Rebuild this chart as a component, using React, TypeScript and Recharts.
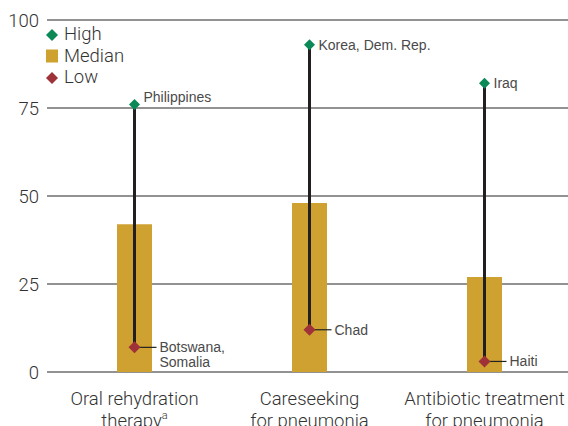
import React from "react";
import {
  ComposedChart,
  Bar,
  Scatter,
  XAxis,
  YAxis,
  CartesianGrid,
} from "recharts";

const categories = ["Oral rehydration therapy", "Careseeking for pneumonia", "Antibiotic treatment for pneumonia"];
const categoryLines = [
  ["Oral rehydration", "therapy"],
  ["Careseeking", "for pneumonia"],
  ["Antibiotic treatment", "for pneumonia"],
];
const highValues = [76, 93, 82];
const medianValues = [42, 48, 27];
const lowValues = [7, 12, 3];
const highCountries = ["Philippines", "Korea, Dem. Rep.", "Iraq"];
const lowCountries = [["Botswana,", "Somalia"], ["Chad"], ["Haiti"]];
const yTicks = [0, 25, 50, 75, 100];

const GREEN = "#0b8a57";
const GOLD = "#cea131";
const RED = "#9e3238";
const FONT = "'Liberation Sans', Arial, sans-serif";
const AXIS_FONT = "Roboto, 'Liberation Sans', sans-serif";

const data = categories.map((name, i) => ({
  name,
  high: highValues[i],
  median: medianValues[i],
  low: lowValues[i],
  range: [lowValues[i], highValues[i]],
  highLabel: highCountries[i],
  lowLabel: lowCountries[i],
}));

const Diamond = ({ cx, cy, fill, r = 6 }: any) => (
  <polygon
    points={`${cx},${cy - r} ${cx + r},${cy} ${cx},${cy + r} ${cx - r},${cy}`}
    fill={fill}
  />
);

const HighShape = (props: any) => {
  const { cx, cy, payload } = props;
  // first label sits just above the 75 gridline
  const dy = payload.highLabel === "Philippines" ? -7 : 0;
  return (
    <g>
      <Diamond cx={cx} cy={cy} fill={GREEN} r={5.5} />
      <text
        x={cx + 9}
        y={cy + dy}
        dy="0.35em"
        fontSize={14}
        fill="#4a4a4a"
        fontFamily={FONT}
      >
        {payload.highLabel}
      </text>
    </g>
  );
};

const LowShape = (props: any) => {
  const { cx, cy, payload } = props;
  const lines: string[] = payload.lowLabel;
  return (
    <g>
      <line x1={cx} y1={cy} x2={cx + 22} y2={cy} stroke="#222" strokeWidth={1.2} />
      <Diamond cx={cx} cy={cy} fill={RED} r={6} />
      {lines.map((l, i) => (
        <text
          key={i}
          x={cx + 25}
          y={cy + i * 15}
          dy="0.35em"
          fontSize={14}
          fill="#4a4a4a"
          fontFamily={FONT}
        >
          {l}
        </text>
      ))}
    </g>
  );
};

const CategoryTick = ({ x, y, index }: any) => {
  const lines = categoryLines[index] || [];
  return (
    <g>
      {lines.map((l, i) => (
        <text
          key={i}
          x={x}
          y={y + 25 + i * 22}
          textAnchor="middle"
          fontSize={18.5}
          fontWeight={300}
          fill="#333"
          fontFamily={AXIS_FONT}
        >
          {l}
          {index === 0 && i === 1 ? (
            <tspan fontSize={11} dy={-8}>
              a
            </tspan>
          ) : null}
        </text>
      ))}
    </g>
  );
};

const legendItems = [
  { label: "High", kind: "diamond", color: GREEN },
  { label: "Median", kind: "square", color: GOLD },
  { label: "Low", kind: "diamond", color: RED },
];

export default function App() {
  return (
    <div style={{ position: "absolute", left: 0, top: 0, width: 568, height: 426, background: "#fff" }}>
      <ComposedChart
        width={568}
        height={426}
        data={data}
        margin={{ top: 20, right: -4, bottom: 0, left: 0 }}
      >
        <CartesianGrid vertical={false} stroke="#6e6e6e" strokeWidth={1.5} />
        <XAxis
          dataKey="name"
          axisLine={false}
          tickLine={false}
          interval={0}
          height={54}
          tick={<CategoryTick />}
        />
        <XAxis dataKey="name" xAxisId="stem" hide />
        <YAxis
          domain={[0, 100]}
          ticks={yTicks}
          axisLine={false}
          tickLine={false}
          width={47}
          tick={{ fontSize: 18.5, fill: "#333", fontFamily: AXIS_FONT, fontWeight: 300 }}
        />
        <Bar dataKey="median" fill={GOLD} barSize={35} isAnimationActive={false} />
        <Bar dataKey="range" xAxisId="stem" fill="#231f20" barSize={3} isAnimationActive={false} />
        <Scatter dataKey="low" shape={<LowShape />} isAnimationActive={false} />
        <Scatter dataKey="high" shape={<HighShape />} isAnimationActive={false} />
      </ComposedChart>
      <div
        style={{
          position: "absolute",
          left: 45,
          top: 24,
          fontFamily: AXIS_FONT,
          fontWeight: 300,
          fontSize: 18.5,
          color: "#333",
          lineHeight: "21.5px",
        }}
      >
        {legendItems.map((it) => (
          <div key={it.label} style={{ display: "flex", alignItems: "center" }}>
            <svg width={19} height={14}>
              {it.kind === "square" ? (
                <rect x={1} y={0.5} width={12} height={13} fill={it.color} />
              ) : (
                <Diamond cx={7} cy={7} r={6} fill={it.color} />
              )}
            </svg>
            <span>{it.label}</span>
          </div>
        ))}
      </div>
    </div>
  );
}
